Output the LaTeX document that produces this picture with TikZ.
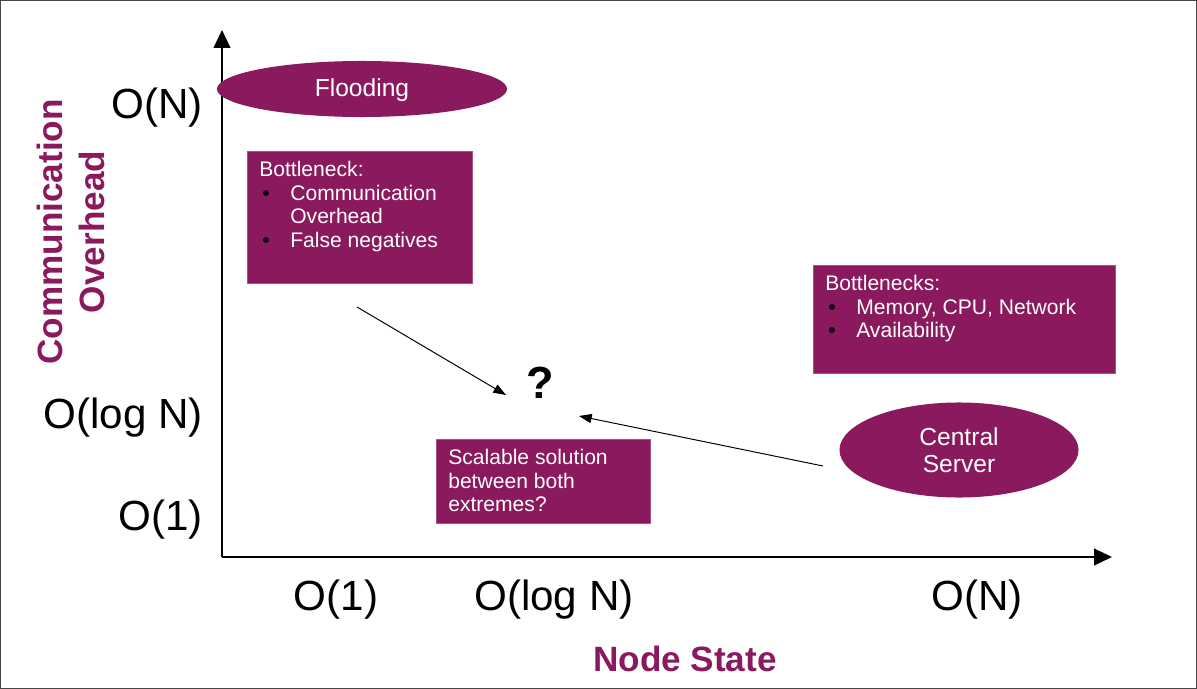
\documentclass[tikz,border=0pt]{standalone}
\usepackage{fontspec}
\setmainfont{Liberation Sans}
\usetikzlibrary{shapes.geometric,arrows.meta}

\definecolor{plum}{RGB}{139,25,93}
\definecolor{frame}{RGB}{70,70,70}

% bullet line with hanging indent
\newcommand{\bitem}[1]{\par\noindent\hangindent=0.775cm\hangafter=1%
  \makebox[0.775cm][l]{\hspace{0.08cm}\textcolor{black}{\textbullet}}#1}

\tikzset{
  infobox/.style={fill=plum, draw=plum!75, text=white, anchor=north west,
    inner xsep=0.3cm, inner ysep=0.25cm, font=\fontsize{15}{16.7}\selectfont},
  blob/.style={ellipse, fill=plum, text=white, inner sep=0pt,
    font=\fontsize{17.5}{19.1}\selectfont},
  tick/.style={inner sep=0pt, font=\fontsize{30}{36}\selectfont},
  axistitle/.style={text=plum, inner sep=0pt, font=\fontsize{25}{30}\selectfont\bfseries},
  axis/.style={line width=1pt, -{Triangle[length=12.8pt,width=12pt]}},
  hint/.style={line width=0.7pt, -{Triangle[length=9pt,width=6.5pt]}}
}

\begin{document}
\begin{tikzpicture}[x=0.025cm, y=-0.025cm]
    \useasboundingbox (0,0) rectangle (1197,689);
    \draw[frame, line width=1.2pt] (0.6,0.6) rectangle (1196.4,688.4);

    % Step 1: axes
    \coordinate (O) at (222,557);
    \coordinate (Y) at (222,30);
    \coordinate (X) at (1112,557);
    \draw[axis] (O) -- (Y);
    \draw[axis] (O) -- (X);

    % Step 2: tick labels
    \node[tick, anchor=east] (yN)   at (203,108) {O(N)};
    \node[tick, anchor=east] (ylog) at (203,418) {O(log N)};
    \node[tick, anchor=east] (y1)   at (203,520) {O(1)};
    \node[tick] (x1)   at (336,600) {O(1)};
    \node[tick] (xlog) at (554,600) {O(log N)};
    \node[tick] (xN)   at (977,600) {O(N)};

    % Step 3: axis titles
    \node[axistitle] (xtitle) at (685,659) {Node State};
    \node[axistitle, rotate=90, align=center] (ytitle) at (71,232) {Communication\\Overhead};

    % Step 4: the two extremes
    \node[blob, minimum width=7.25cm, minimum height=1.4cm] (flood) at (362,89) {\raisebox{-0.19cm}[0pt][0pt]{Flooding}};
    \node[blob, minimum width=5.975cm, minimum height=2.375cm, align=center] (server) at (959,450) {Central\\Server};

    % Step 5: bottleneck boxes
    \node[infobox] (bneck) at (247,151) {%
      \begin{minipage}[t][2.8cm][t]{5.025cm}\raggedright
        Bottleneck:
        \bitem{Communication\newline Overhead}
        \bitem{False negatives}
      \end{minipage}};
    \node[infobox] (bnecks) at (813,265) {%
      \begin{minipage}[t][2.2cm][t]{6.95cm}\raggedright
        Bottlenecks:
        \bitem{Memory, CPU, Network}
        \bitem{Availability}
      \end{minipage}};
    \node[infobox] (goal) at (436,439) {%
      \begin{minipage}[t][1.6cm][t]{4.75cm}\raggedright
        Scalable solution\\between both\\extremes?
      \end{minipage}};

    % Step 6: question mark and arrows
    \node[inner sep=0pt, font=\fontsize{32}{36}\selectfont\bfseries] (qmark) at (540,383) {?};
    \coordinate (a1s) at (357,307);
    \coordinate (a1e) at (506,395);
    \coordinate (a2s) at (823,466);
    \coordinate (a2e) at (579,416);
    \draw[hint] (a1s) -- (a1e);
    \draw[hint] (a2s) -- (a2e);

\end{tikzpicture}
\end{document}
